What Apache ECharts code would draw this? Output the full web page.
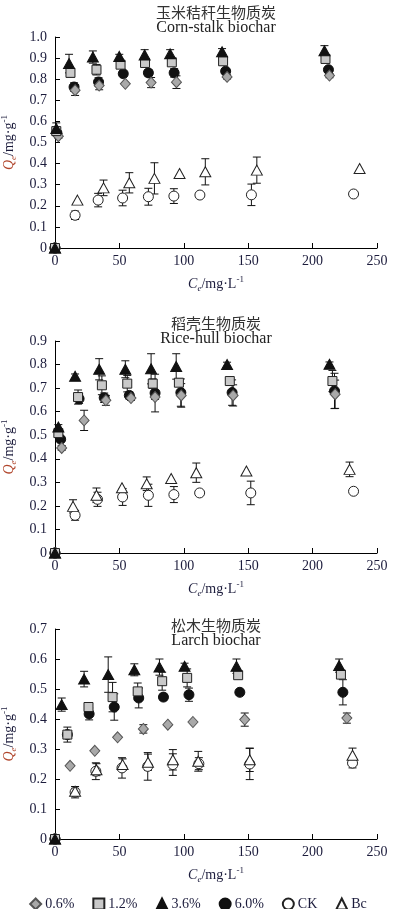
<!DOCTYPE html>
<html>
<head>
<meta charset="utf-8">
<script src="https://cdn.jsdelivr.net/npm/echarts@6/dist/echarts.min.js"></script>
<style>
html,body{margin:0;padding:0;background:#fff;}
#chart{width:396px;height:909px;}
</style>
</head>
<body>
<div id="chart"></div>
<script>
// ---------- DATA ----------
var seriesNames = ['0.6%', '1.2%', '3.6%', '6.0%', 'CK', 'Bc'];
var panelTitles = ['玉米秸秆生物质炭', '稻壳生物质炭', '松木生物质炭'];
var panelSubtitles = ['Corn-stalk biochar', 'Rice-hull biochar', 'Larch biochar'];
var yMaxes = [1.0, 0.9, 0.7];
var xTicks = [0, 50, 100, 150, 200, 250];

// Panel 1: Corn-stalk biochar
var corn_x06 = [0, 2.6, 15.6, 34.3, 54.6, 74.6, 94.3, 133.6, 213.1];
var corn_y06 = [0, 0.530, 0.748, 0.770, 0.778, 0.784, 0.786, 0.811, 0.817];
var corn_e06 = [0, 0.01, 0.025, 0.02, 0, 0.024, 0.03, 0.01, 0.01];
var corn_x12 = [0, 1.0, 12.0, 32.2, 50.9, 69.9, 90.7, 130.5, 210.0];
var corn_y12 = [0, 0.554, 0.830, 0.845, 0.869, 0.877, 0.880, 0.885, 0.896];
var corn_e12 = [0, 0.01, 0.02, 0.025, 0.01, 0.02, 0.01, 0.01, 0.01];
var corn_x36 = [0, 1.0, 10.9, 29.4, 49.9, 69.6, 89.4, 129.7, 209.2];
var corn_y36 = [0, 0.566, 0.874, 0.905, 0.908, 0.915, 0.920, 0.930, 0.935];
var corn_e36 = [0, 0.027, 0.044, 0.029, 0.01, 0.025, 0.02, 0.015, 0.024];
var corn_x60 = [0, 1.5, 14.8, 33.8, 53.0, 72.5, 92.5, 132.5, 212.3];
var corn_y60 = [0, 0.545, 0.763, 0.787, 0.826, 0.830, 0.830, 0.838, 0.845];
var corn_e60 = [0, 0.01, 0.02, 0.02, 0.01, 0.015, 0.02, 0.01, 0.01];
var corn_xCK = [0, 15.6, 33.5, 52.5, 72.5, 92.3, 112.5, 152.5, 231.8];
var corn_yCK = [0, 0.155, 0.227, 0.237, 0.243, 0.246, 0.251, 0.252, 0.256];
var corn_eCK = [0, 0.02, 0.032, 0.037, 0.04, 0.035, 0, 0.051, 0];
var corn_xBc = [0, 17.4, 37.7, 57.7, 77.2, 96.7, 116.7, 156.7, 236.5];
var corn_yBc = [0, 0.227, 0.285, 0.309, 0.330, 0.353, 0.361, 0.369, 0.377];
var corn_eBc = [0, 0, 0.037, 0.048, 0.074, 0, 0.062, 0.062, 0];

// Panel 2: Rice-hull biochar
var rice_x06 = [0, 5.2, 22.6, 39.5, 59.0, 77.7, 98.0, 138.3, 217.5];
var rice_y06 = [0, 0.446, 0.563, 0.648, 0.658, 0.662, 0.669, 0.669, 0.674];
var rice_e06 = [0, 0.01, 0.043, 0.021, 0.01, 0.01, 0.05, 0.045, 0.06];
var rice_x12 = [0, 2.6, 17.9, 36.4, 56.1, 75.9, 96.2, 135.7, 215.4];
var rice_y12 = [0, 0.509, 0.662, 0.712, 0.719, 0.719, 0.723, 0.730, 0.730];
var rice_e12 = [0, 0.01, 0.03, 0.04, 0.035, 0.02, 0.01, 0.01, 0.045];
var rice_x36 = [0, 2.6, 15.6, 34.3, 54.6, 74.6, 94.1, 133.6, 213.1];
var rice_y36 = [0, 0.535, 0.750, 0.780, 0.780, 0.782, 0.792, 0.800, 0.801];
var rice_e36 = [0, 0.01, 0.01, 0.045, 0.036, 0.064, 0.054, 0.01, 0.01];
var rice_x60 = [0, 4.4, 18.7, 38.2, 57.7, 77.7, 97.7, 137.5, 217.0];
var rice_y60 = [0, 0.483, 0.655, 0.659, 0.669, 0.679, 0.681, 0.681, 0.688];
var rice_e60 = [0, 0.01, 0.02, 0.02, 0.015, 0.08, 0.058, 0.054, 0.075];
var rice_xCK = [0, 15.6, 33.0, 52.5, 72.5, 92.3, 112.3, 152.0, 231.8];
var rice_yCK = [0, 0.160, 0.228, 0.238, 0.245, 0.248, 0.255, 0.255, 0.262];
var rice_eCK = [0, 0.021, 0.03, 0.036, 0.047, 0.034, 0, 0.05, 0];
var rice_xBc = [0, 14.0, 32.2, 52.0, 71.2, 90.2, 109.7, 148.6, 228.7];
var rice_yBc = [0, 0.198, 0.245, 0.277, 0.294, 0.316, 0.341, 0.348, 0.355];
var rice_eBc = [0, 0.028, 0.031, 0, 0.029, 0, 0.041, 0, 0.031];

// Panel 3: Larch biochar
var larch_x06 = [0, 11.7, 30.9, 48.6, 68.6, 87.6, 107.1, 147.3, 226.6];
var larch_y06 = [0, 0.244, 0.294, 0.339, 0.367, 0.381, 0.390, 0.398, 0.403];
var larch_e06 = [0, 0, 0, 0, 0.014, 0, 0, 0.022, 0.017];
var larch_x12 = [0, 9.6, 26.0, 44.7, 64.2, 83.2, 102.6, 142.2, 222.0];
var larch_y12 = [0, 0.348, 0.440, 0.473, 0.492, 0.526, 0.537, 0.546, 0.548];
var larch_e12 = [0, 0.01, 0.01, 0.049, 0.028, 0.03, 0.03, 0.01, 0.01];
var larch_x36 = [0, 5.2, 22.6, 41.3, 61.6, 81.1, 100.6, 140.9, 220.6];
var larch_y36 = [0, 0.448, 0.533, 0.548, 0.564, 0.573, 0.576, 0.576, 0.578];
var larch_e36 = [0, 0.022, 0.026, 0.059, 0.02, 0.027, 0.01, 0.024, 0.022];
var larch_x60 = [0, 9.6, 26.5, 46.0, 65.0, 84.2, 104.0, 143.5, 223.5];
var larch_y60 = [0, 0.348, 0.417, 0.440, 0.470, 0.473, 0.481, 0.489, 0.489];
var larch_e60 = [0, 0.025, 0.02, 0.044, 0.033, 0.01, 0.022, 0.01, 0.042];
var larch_xCK = [0, 15.6, 31.7, 52.0, 72.0, 91.5, 111.7, 151.2, 231.0];
var larch_yCK = [0, 0.156, 0.226, 0.237, 0.242, 0.248, 0.251, 0.250, 0.253];
var larch_eCK = [0, 0.019, 0.028, 0.034, 0.046, 0.036, 0.02, 0.052, 0.016];
var larch_xBc = [0, 15.6, 32.2, 52.5, 72.2, 91.5, 111.2, 151.2, 231.0];
var larch_yBc = [0, 0.159, 0.231, 0.248, 0.256, 0.264, 0.259, 0.264, 0.279];
var larch_eBc = [0, 0.01, 0.02, 0.019, 0.027, 0.034, 0.033, 0.039, 0.024];

// ---------- STYLE ----------
var panels = [
  {'0.6%':[corn_x06,corn_y06,corn_e06],'1.2%':[corn_x12,corn_y12,corn_e12],'3.6%':[corn_x36,corn_y36,corn_e36],'6.0%':[corn_x60,corn_y60,corn_e60],'CK':[corn_xCK,corn_yCK,corn_eCK],'Bc':[corn_xBc,corn_yBc,corn_eBc]},
  {'0.6%':[rice_x06,rice_y06,rice_e06],'1.2%':[rice_x12,rice_y12,rice_e12],'3.6%':[rice_x36,rice_y36,rice_e36],'6.0%':[rice_x60,rice_y60,rice_e60],'CK':[rice_xCK,rice_yCK,rice_eCK],'Bc':[rice_xBc,rice_yBc,rice_eBc]},
  {'0.6%':[larch_x06,larch_y06,larch_e06],'1.2%':[larch_x12,larch_y12,larch_e12],'3.6%':[larch_x36,larch_y36,larch_e36],'6.0%':[larch_x60,larch_y60,larch_e60],'CK':[larch_xCK,larch_yCK,larch_eCK],'Bc':[larch_xBc,larch_yBc,larch_eBc]}
];
var styles = {
  '0.6%': {symbol:'diamond', size:[10,11], fill:'#a9a9a9', border:'#555', bw:1},
  '1.2%': {symbol:'rect', size:9, fill:'#c9c9c9', border:'#222', bw:1},
  '3.6%': {symbol:'triangle', size:[11,10], fill:'#111', border:'#111', bw:1},
  '6.0%': {symbol:'circle', size:10, fill:'#111', border:'#111', bw:1},
  'CK':   {symbol:'circle', size:10, fill:'#fff', border:'#222', bw:1},
  'Bc':   {symbol:'triangle', size:[11,10], fill:'#fff', border:'#222', bw:1}
};
var drawOrder = ['CK', 'Bc', '6.0%', '0.6%', '1.2%', '3.6%'];
var grids = [
  {left:55, width:322, top:37, height:211, outerBoundsMode:'none', containLabel:false},
  {left:55, width:322, top:341, height:212, outerBoundsMode:'none', containLabel:false},
  {left:55, width:322, top:629, height:210, outerBoundsMode:'none', containLabel:false}
];
var serif = 'Liberation Serif';
var labelColor = '#1c1c3c';

var xAxes = [], yAxes = [], series = [], titles = [];
var titleTops = [4, 315, 617];
for (var p = 0; p < 3; p++) {
  xAxes.push({
    gridIndex:p, type:'value', min:0, max:250, interval:50,
    axisLine:{lineStyle:{color:'#000', width:1}},
    axisTick:{inside:true, length:5, lineStyle:{color:'#000'}},
    axisLabel:{fontFamily:serif, fontSize:14, color:labelColor, margin:6},
    splitLine:{show:false},
    name:'{i|C}{sub|e}{n|/mg·L}{sup|-1}', nameLocation:'middle', nameGap:27,
    nameTextStyle:{rich:{
      i:{fontFamily:serif, fontStyle:'italic', fontSize:14, color:'#1c1c3c', lineHeight:18, verticalAlign:'middle'},
      sub:{fontFamily:serif, fontStyle:'italic', fontSize:9, color:'#1c1c3c', lineHeight:18, verticalAlign:'bottom', padding:[6,0,0,0]},
      n:{fontFamily:serif, fontSize:14, color:'#1c1c3c', lineHeight:18, verticalAlign:'middle'},
      sup:{fontFamily:serif, fontSize:9, color:'#1c1c3c', lineHeight:18, verticalAlign:'top', padding:[0,0,6,0]}
    }}
  });
  yAxes.push({
    gridIndex:p, type:'value', min:0, max:yMaxes[p], interval:0.1,
    axisLine:{show:true, lineStyle:{color:'#000', width:1}},
    axisTick:{show:true, inside:true, length:5, lineStyle:{color:'#000'}},
    axisLabel:{fontFamily:serif, fontSize:14, color:labelColor, margin:8,
      formatter:function(v){ return Math.abs(v) < 1e-9 ? '0' : v.toFixed(1); }},
    splitLine:{show:false},
    name:'{i|Q}{sub|e}{n|/mg·g}{sup|-1}', nameLocation:'middle', nameGap:33,
    nameTextStyle:{rich:{
      i:{fontFamily:serif, fontStyle:'italic', fontSize:14, color:'#b0442a', lineHeight:18, verticalAlign:'middle'},
      sub:{fontFamily:serif, fontStyle:'italic', fontSize:9, color:'#b0442a', lineHeight:18, verticalAlign:'bottom', padding:[6,0,0,0]},
      n:{fontFamily:serif, fontSize:14, color:'#1c1c3c', lineHeight:18, verticalAlign:'middle'},
      sup:{fontFamily:serif, fontSize:9, color:'#1c1c3c', lineHeight:18, verticalAlign:'top', padding:[0,0,6,0]}
    }}
  });
  titles.push({
    text: panelTitles[p], subtext: panelSubtitles[p],
    left: 216, top: titleTops[p], textAlign:'center', itemGap:0, padding:0,
    textStyle:{fontFamily:'Noto Sans CJK SC', fontWeight:'normal', fontSize:15, lineHeight:16, color:'#333'},
    subtextStyle:{fontFamily:serif, fontWeight:'normal', fontSize:16, lineHeight:15, color:'#222'}
  });
  // error bars
  for (var k = 0; k < drawOrder.length; k++) {
    var nm = drawOrder[k];
    var arr = panels[p][nm];
    var ebData = [];
    for (var i = 0; i < arr[0].length; i++) {
      if (arr[2][i] > 0) ebData.push([arr[0][i], arr[1][i], arr[2][i]]);
    }
    series.push({
      type:'custom', xAxisIndex:p, yAxisIndex:p, z:1, silent:true,
      data: ebData,
      renderItem: function(params, api){
        var x = api.value(0), y = api.value(1), e = api.value(2);
        var top = api.coord([x, y + e]);
        var bot = api.coord([x, y - e]);
        var hw = 4;
        var st = {stroke:'#111', lineWidth:1};
        return {type:'group', children:[
          {type:'line', shape:{x1:top[0], y1:top[1], x2:bot[0], y2:bot[1]}, style:st},
          {type:'line', shape:{x1:top[0]-hw, y1:top[1], x2:top[0]+hw, y2:top[1]}, style:st},
          {type:'line', shape:{x1:bot[0]-hw, y1:bot[1], x2:bot[0]+hw, y2:bot[1]}, style:st}
        ]};
      }
    });
  }
  // markers
  for (var k2 = 0; k2 < drawOrder.length; k2++) {
    var nm2 = drawOrder[k2];
    var arr2 = panels[p][nm2];
    var st2 = styles[nm2];
    var d = [];
    for (var j = 0; j < arr2[0].length; j++) d.push([arr2[0][j], arr2[1][j]]);
    series.push({
      name:nm2, type:'scatter', xAxisIndex:p, yAxisIndex:p, z:2 + k2,
      symbol:st2.symbol, symbolSize:st2.size,
      itemStyle:{color:st2.fill, borderColor:st2.border, borderWidth:st2.bw, opacity:1},
      data:d
    });
  }
}

var chart = echarts.init(document.getElementById('chart'), null, {renderer:'canvas'});
chart.setOption({
  animation:false,
  backgroundColor:'#fff',
  title: titles,
  grid: grids,
  xAxis: xAxes,
  yAxis: yAxes,
  legend: {
    data: seriesNames, left:'center', top:892, itemWidth:11, itemHeight:11, itemGap:18,
    textStyle:{fontFamily:serif, fontSize:14, color:labelColor, padding:[0,0,0,-1]},
    selectedMode:false
  },
  series: series
});
</script>
</body>
</html>
